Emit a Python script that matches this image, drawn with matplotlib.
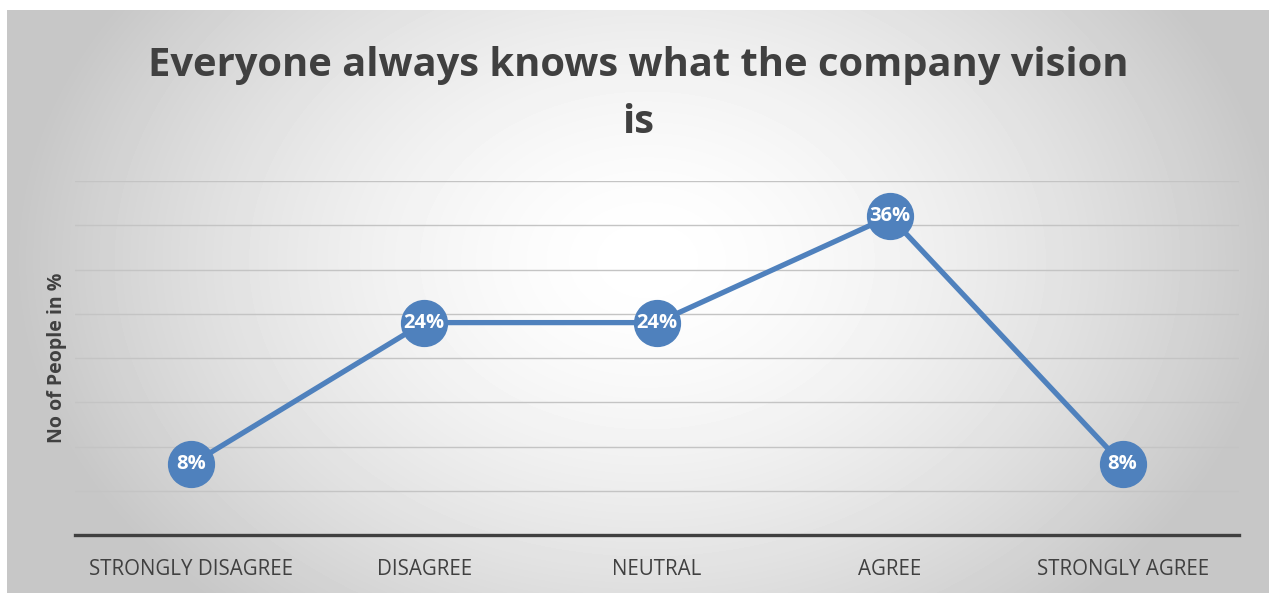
import numpy as np
import matplotlib
matplotlib.use("Agg")
import matplotlib.pyplot as plt

categories = ["STRONGLY DISAGREE", "DISAGREE", "NEUTRAL", "AGREE", "STRONGLY AGREE"]
percent = [8, 24, 24, 36, 8]
title = "Everyone always knows what the company vision\nis"
ylabel = "No of People in %"

W, H = 1269, 593
fig = plt.figure(figsize=(W / 100, H / 100), dpi=100)
fig.patch.set_facecolor("white")

# radial grey-to-white backdrop behind the chart area
bg = fig.add_axes([7 / W, 0, (W - 7) / W, (H - 10) / H], zorder=0)
yy, xx = np.mgrid[0:583, 0:1262]
d = np.sqrt(((xx - 640) / 700.0) ** 2 + ((yy - 250) / 520.0) ** 2)
shade = np.clip(1 - 0.26 * d ** 1.6, 0.78, 1.0)
bg.imshow(shade, cmap="gray", vmin=0, vmax=1, aspect="auto", interpolation="bilinear")
bg.axis("off")

ax = fig.add_axes([75 / W, 1 - 535 / H, (1239 - 75) / W, (535 - 181) / H], zorder=1)
ax.patch.set_alpha(0)
x = np.arange(len(categories))
ax.plot(x, percent, color="#4f81bd", lw=3.8, solid_capstyle="round", zorder=3)
ax.plot(x, percent, "o", ms=33, color="#4f81bd", zorder=4)
for xi, v in zip(x, percent):
    ax.text(xi, v, f"{v}%", color="white", ha="center", va="center",
            fontsize=14.5, fontweight="bold", family="Open Sans", zorder=5)

ax.set_xlim(-0.5, len(categories) - 0.5)
ax.set_ylim(0, 40)
ax.set_yticks(np.arange(5, 41, 5))
ax.yaxis.grid(True, color="#c4c4c4", lw=1)
ax.set_axisbelow(True)
ax.tick_params(axis="y", length=0, labelleft=False)
ax.tick_params(axis="x", length=0, pad=17, labelsize=14.8, labelcolor="#404040")
ax.set_xticks(x)
ax.set_xticklabels(categories, family="Open Sans")
for s in ["top", "right", "left"]:
    ax.spines[s].set_visible(False)
ax.spines["bottom"].set_color("#404040")
ax.spines["bottom"].set_linewidth(2.4)

fig.text(57 / W, 1 - 358 / H, ylabel, rotation=90, ha="center", va="center",
         fontsize=14, fontweight="bold", color="#404040", family="Open Sans")
fig.text(638 / W, 1 - 94 / H, title, ha="center", va="center", fontsize=28.7,
         fontweight="bold", color="#404040", family="Open Sans", linespacing=1.62)

fig.savefig("out.png", dpi=100)
